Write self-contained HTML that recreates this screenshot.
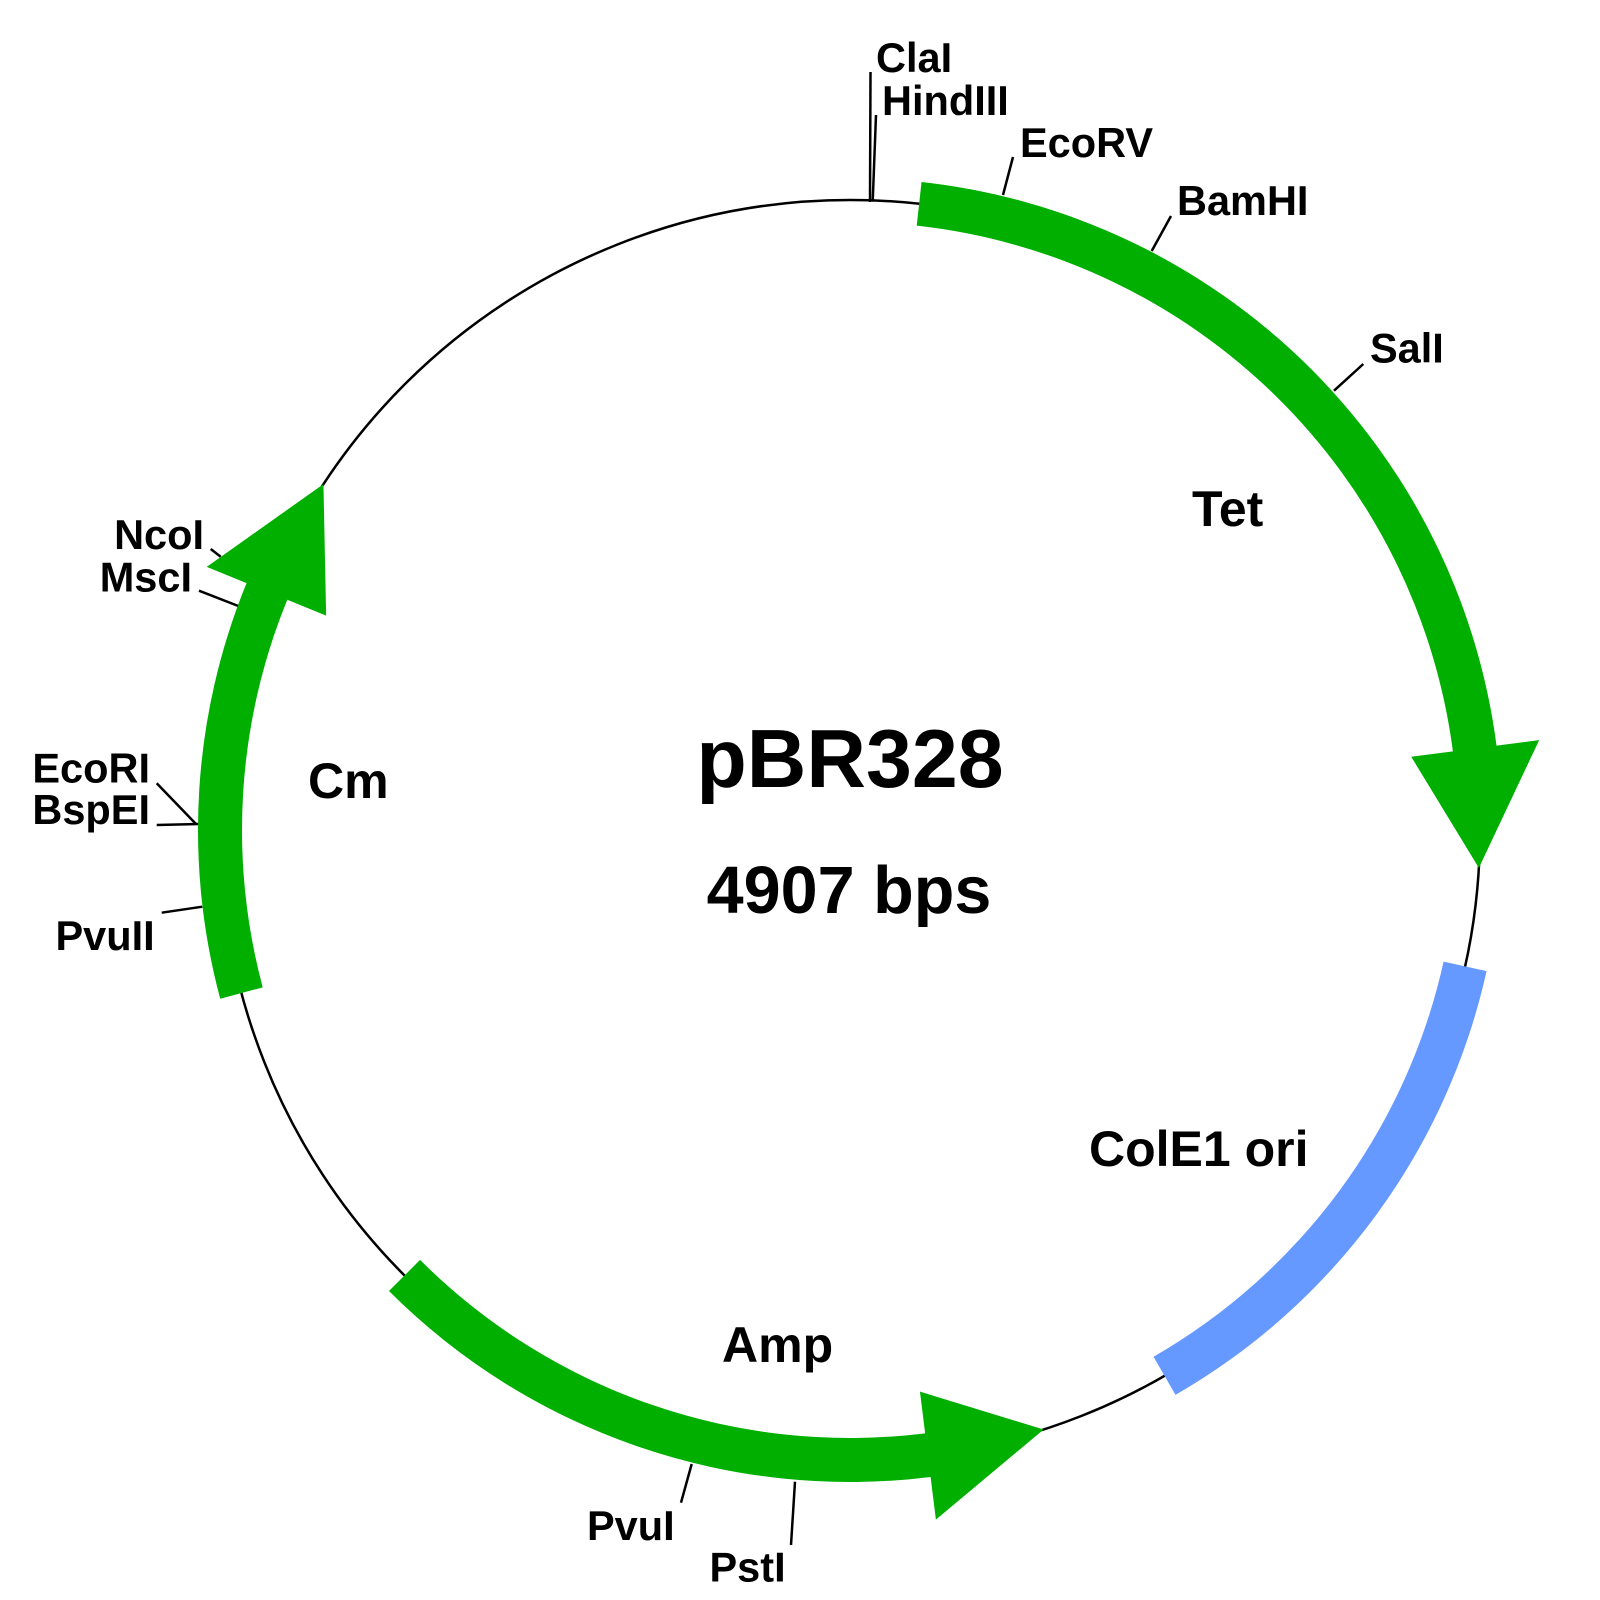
<!DOCTYPE html>
<html>
<head>
<meta charset="utf-8">
<style>
  html, body { margin: 0; padding: 0; background: #ffffff; }
  svg { display: block; }
  text { font-family: "Liberation Sans", Arial, sans-serif; font-weight: bold; fill: #000; }
</style>
</head>
<body>
<svg width="1600" height="1600" viewBox="0 0 1600 1600" xmlns="http://www.w3.org/2000/svg">
  <rect x="0" y="0" width="1600" height="1600" fill="#ffffff"/>

  <!-- backbone circle -->
  <circle cx="850" cy="830" r="630" fill="none" stroke="#000" stroke-width="2.5"/>

  <!-- restriction site ticks -->
  <g stroke="#000" stroke-width="2.5" fill="none" stroke-linecap="butt">
    <line x1="870" y1="202" x2="870.5" y2="72"/>
    <line x1="872.7" y1="201.7" x2="876" y2="115"/>
    <line x1="1003" y1="195" x2="1013" y2="157"/>
    <line x1="1151.7" y1="251" x2="1171" y2="216"/>
    <line x1="1334" y1="390.7" x2="1363.3" y2="364"/>
    <line x1="220.7" y1="556.7" x2="210.7" y2="549"/>
    <line x1="238.3" y1="606" x2="199" y2="590.7"/>
    <line x1="196" y1="824" x2="156.7" y2="783.3"/>
    <line x1="199" y1="824" x2="156.7" y2="825"/>
    <line x1="202.3" y1="906.7" x2="161.7" y2="912.7"/>
    <line x1="691.7" y1="1464" x2="681" y2="1502.7"/>
    <line x1="795" y1="1481.7" x2="791" y2="1545"/>
  </g>

  <!-- Tet -->
  <path fill="#00AF00" d="M921.54,181.94 A652,652 0 0 1 1496.53,745.67 L1539.17,740.11 L1478.86,867.91 L1411.25,756.79 L1452.90,751.36 A608,608 0 0 0 916.72,225.67 Z"/>

  <!-- Cm -->
  <path fill="#00AF00" d="M220.22,998.75 A652,652 0 0 1 246.55,583.12 L206.75,566.84 L323.44,484.12 L326.14,615.68 L287.27,599.78 A608,608 0 0 0 262.72,987.36 Z"/>

  <!-- Amp -->
  <path fill="#00AF00" d="M388.97,1291.03 A652,652 0 0 0 930.59,1477.00 L935.90,1519.67 L1043.64,1429.50 L919.96,1391.66 L925.15,1433.34 A608,608 0 0 1 420.08,1259.92 Z"/>

  <!-- ColE1 ori -->
  <path fill="#6699FF" d="M1486.55,971.12 A652,652 0 0 1 1175.50,1394.93 L1153.54,1356.81 A608,608 0 0 0 1443.59,961.60 Z"/>

  <!-- site labels -->
  <g font-size="41.5">
    <text x="876" y="72">ClaI</text>
    <text x="882" y="115">HindIII</text>
    <text x="1020" y="157">EcoRV</text>
    <text x="1177" y="215">BamHI</text>
    <text x="1370" y="362.7">SalI</text>
    <text x="204" y="549" text-anchor="end">NcoI</text>
    <text x="192" y="591.7" text-anchor="end">MscI</text>
    <text x="150" y="782.7" text-anchor="end">EcoRI</text>
    <text x="150" y="824" text-anchor="end">BspEI</text>
    <text x="55.5" y="950">PvuII</text>
    <text x="587" y="1540">PvuI</text>
    <text x="709.5" y="1581.7">PstI</text>
  </g>

  <!-- feature labels -->
  <g font-size="50">
    <text x="1192" y="526">Tet</text>
    <text x="308" y="798">Cm</text>
    <text x="1089" y="1166">ColE1 ori</text>
    <text x="722" y="1362">Amp</text>
  </g>

  <!-- center title -->
  <text x="850" y="787" font-size="82.5" text-anchor="middle">pBR328</text>
  <text x="849" y="913" font-size="66.5" text-anchor="middle">4907 bps</text>
</svg>
</body>
</html>
